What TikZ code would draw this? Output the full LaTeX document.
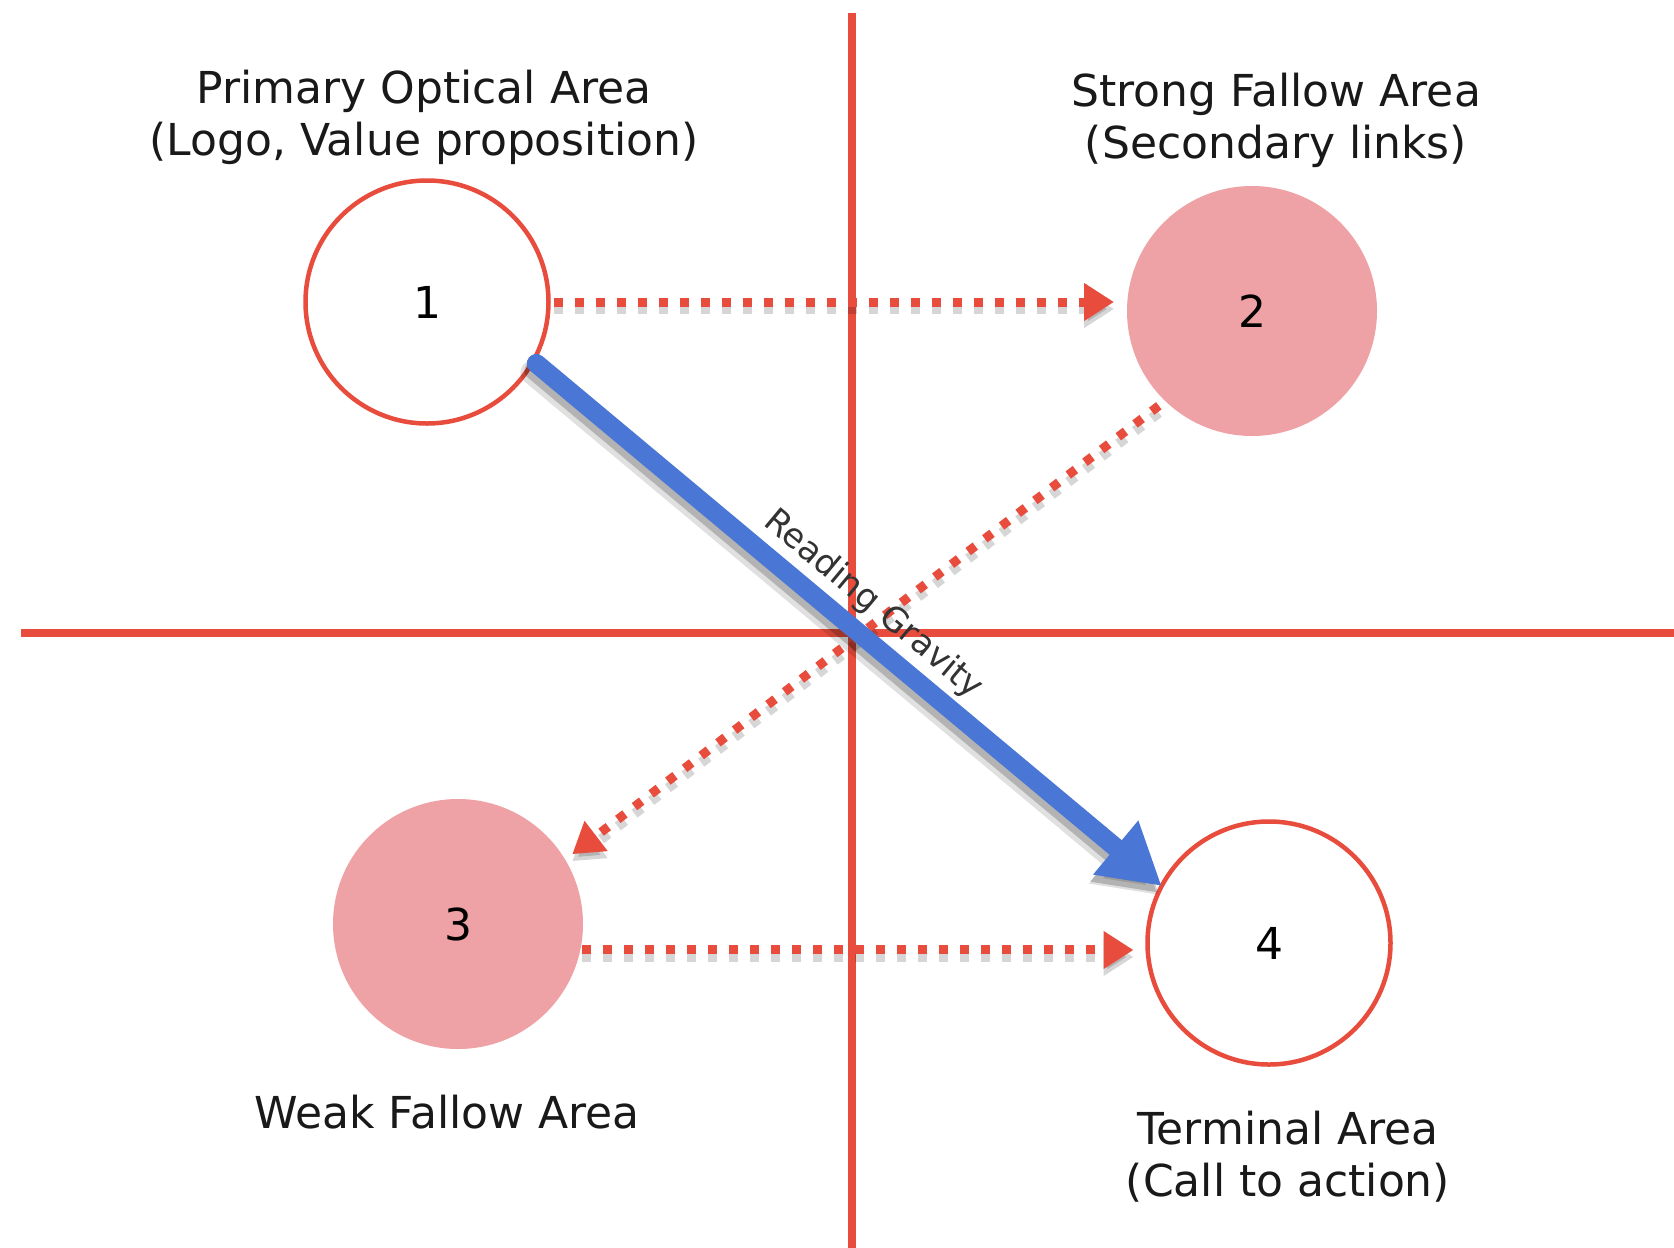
\documentclass[tikz,border=0pt]{standalone}
\usepackage{fontspec}
\setmainfont{DejaVu Sans}
\usetikzlibrary{arrows.meta}
\definecolor{axisred}{RGB}{231,76,60}
\definecolor{pinkfill}{RGB}{238,162,165}
\definecolor{gravblue}{RGB}{74,118,214}
\begin{document}
\begin{tikzpicture}[x=1pt,y=-1pt,
  area/.style={circle, inner sep=0pt, outer sep=0pt, font=\fontsize{44}{52}\selectfont},
  hollow/.style={area, draw=axisred, line width=4.5pt, fill=white, minimum size=243pt},
  filled/.style={area, fill=pinkfill, minimum size=250pt},
  caption/.style={align=center, font=\fontsize{44}{52}\selectfont, text=black!90},
  axisline/.style={draw=axisred, line width=8pt},
  flow/.style={
    preaction={draw=black, opacity=0.16, line width=10pt, dash pattern=on 9pt off 12pt,
      transform canvas={yshift=-7pt}},
    draw=axisred, line width=9pt, dash pattern=on 9pt off 12pt,
    -{Triangle[length=30pt,width=36pt]}},
  gravity/.style={
    preaction={draw=black, opacity=0.12, line width=24pt, line cap=round,
      transform canvas={shift={(-4pt,-9pt)}}},
    preaction={draw=black, opacity=0.2, line width=18pt, line cap=round,
      transform canvas={shift={(-3pt,-7pt)}}},
    draw=gravblue, line width=19pt, line cap=round,
    -{Triangle[length=60pt,width=66pt]}},
  gravlabel/.style={sloped, anchor=south, inner sep=5pt, text=black!80,
    font=\fontsize{34}{40}\selectfont}
]
\fill[white] (0,0) rectangle (1674,1248);
\useasboundingbox (0,0) rectangle (1674,1248);

% quadrant axes
\draw[axisline] (852,13) -- (852,1248);
\draw[axisline] (21,633) -- (1674,633);

% areas
\node[hollow] (n1) at (427,302) {1};
\node[filled] (n2) at (1252,311) {2};
\node[filled] (n3) at (458,924) {3};
\node[hollow] (n4) at (1269,943) {4};

% captions
\node[caption] (t1) at (424,117) {Primary Optical Area\\(Logo, Value proposition)};
\node[caption] (t2) at (1276,120) {Strong Fallow Area\\(Secondary links)};
\node[caption] (t3) at (447,1112) {Weak Fallow Area};
\node[caption] (t4) at (1288,1157) {Terminal Area\\(Call to action)};

% dotted flows
\draw[flow, shorten <=5pt, shorten >=13pt] (n1.east) -- (n1.east -| n2.west);
\draw[flow, shorten <=8pt, shorten >=9pt] (n2.226) -- (n3.31);
\draw[flow, shorten <=2pt, shorten >=14pt] (n3.-12) -- (n3.-12 -| n4.west);

% reading gravity
\draw[gravity, shorten <=4pt] (n1.-29) -- (n4.152) node[gravlabel, pos=0.51] {Reading Gravity};
\end{tikzpicture}
\end{document}
